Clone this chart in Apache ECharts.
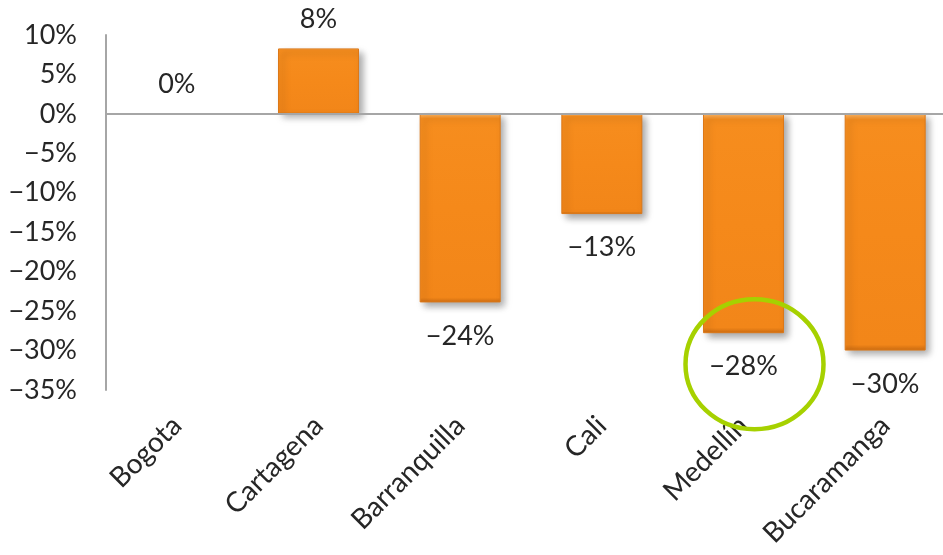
<!DOCTYPE html>
<html>
<head>
<meta charset="utf-8">
<script src="https://cdn.jsdelivr.net/npm/echarts@6/dist/echarts.min.js"></script>
<style>
html,body{margin:0;padding:0;background:#fff;overflow:hidden;}
#chart{width:960px;height:555px;}
</style>
</head>
<body>
<div id="chart"></div>
<script>
const categories = ['Bogota', 'Cartagena', 'Barranquilla', 'Cali', 'Medellín', 'Bucaramanga'];
const values = [0, 8.3, -23.9, -12.7, -27.8, -30.0];
const labelTexts = ['0%', '8%', '\u221224%', '\u221213%', '\u221228%', '\u221230%'];
const yTicks = { min: -35, max: 10, interval: 5 };
const highlightCategory = 'Medellín';

const FONT = 'Lato';
const TXT = '#262626';

const chart = echarts.init(document.getElementById('chart'), null, { renderer: 'canvas' });

const barColor = {
  type: 'linear', x: 0, y: 0, x2: 0, y2: 1,
  colorStops: [
    { offset: 0, color: '#FAB464' },
    { offset: 0.025, color: '#F68D1E' },
    { offset: 0.5, color: '#F5891A' },
    { offset: 0.975, color: '#F28619' },
    { offset: 1, color: '#CC6C12' }
  ]
};

const seriesData = values.map((v, i) => ({
  value: v,
  label: {
    position: v < 0 ? 'bottom' : 'top',
    distance: v < 0 ? 20 : 16,
    formatter: labelTexts[i]
  },
  itemStyle: v === 0 ? { color: 'rgba(0,0,0,0)', shadowColor: 'rgba(0,0,0,0)', borderWidth: 0 } : {}
}));

chart.setOption({
  animation: false,
  grid: { left: 106, top: 35, bottom: 165, right: 4, containLabel: false },
  xAxis: {
    type: 'category',
    data: categories,
    axisLine: { show: false, onZero: false },
    axisTick: { show: false },
    axisLabel: {
      rotate: 45,
      margin: 31,
      interval: 0,
      fontFamily: FONT,
      fontSize: 28,
      color: TXT
    }
  },
  yAxis: {
    type: 'value',
    min: yTicks.min,
    max: yTicks.max,
    interval: yTicks.interval,
    axisLine: { show: true, lineStyle: { color: '#A6A6A6', width: 2 } },
    axisTick: { show: false },
    splitLine: { show: false },
    axisLabel: {
      margin: 29,
      fontFamily: FONT,
      fontSize: 27,
      color: TXT,
      formatter: v => (v < 0 ? '\u2212' + Math.abs(v) : v) + '%'
    }
  },
  series: [{
    type: 'bar',
    data: seriesData,
    barWidth: 81,
    itemStyle: {
      color: barColor,
      borderColor: '#DC7818',
      borderWidth: 1,
      shadowColor: 'rgba(0,0,0,0.35)',
      shadowBlur: 7,
      shadowOffsetX: 4,
      shadowOffsetY: 4
    },
    label: {
      show: true,
      fontFamily: FONT,
      fontSize: 27,
      color: TXT
    },
    markLine: {
      silent: true,
      symbol: 'none',
      label: { show: false },
      lineStyle: { color: '#A6A6A6', width: 2, type: 'solid' },
      data: [{ yAxis: 0 }]
    },
    z: 2
  }]
});

// highlight ellipse around the Medellín label, placed via the chart's scales
const hiIdx = categories.indexOf(highlightCategory);
const c = chart.convertToPixel({ seriesIndex: 0 }, [hiIdx, values[hiIdx]]);
chart.setOption({
  graphic: [{
    type: 'ellipse',
    z: 100,
    shape: { cx: c[0] + 11, cy: c[1] + 31, rx: 69, ry: 65 },
    style: { fill: 'none', stroke: '#A6D100', lineWidth: 4.5 }
  }]
});
</script>
</body>
</html>
